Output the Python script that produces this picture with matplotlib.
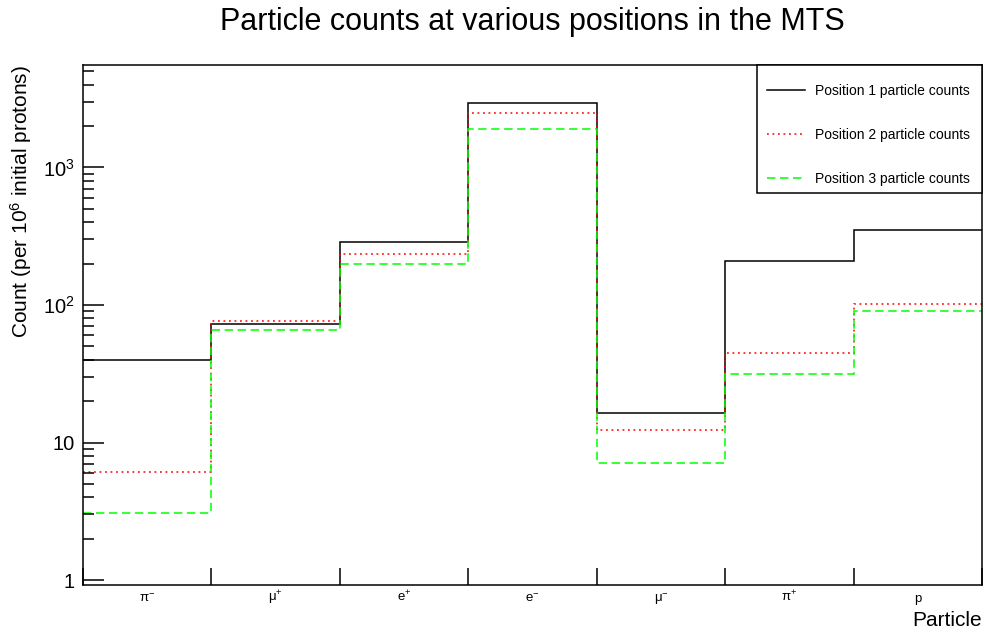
import numpy as np
import matplotlib
matplotlib.use("Agg")
import matplotlib.pyplot as plt
from matplotlib.patches import Rectangle
from matplotlib.ticker import LogLocator, NullFormatter

plt.rcParams['font.family'] = ['Liberation Sans', 'DejaVu Sans']
plt.rcParams['mathtext.fontset'] = 'custom'
plt.rcParams['mathtext.rm'] = 'Liberation Sans'
plt.rcParams['mathtext.it'] = 'Liberation Sans'

particles = ["π$^{-}$", "μ$^{+}$", "e$^{+}$", "e$^{-}$", "μ$^{-}$", "π$^{+}$", "p"]
pos1_counts = [40, 73, 287, 2940, 16.4, 209, 351]
pos2_counts = [6.1, 77, 235, 2490, 12.3, 45, 102]
pos3_counts = [3.05, 66, 199, 1905, 7.1, 31.5, 90]
series_names = ["Position 1 particle counts", "Position 2 particle counts",
                "Position 3 particle counts"]

W, H = 985, 635
fig = plt.figure(figsize=(W / 100, H / 100), dpi=100)
ax = fig.add_axes([83 / W, 50 / H, 899 / W, 520 / H])

edges = np.arange(len(particles) + 1)
ax.stairs(pos1_counts, edges, baseline=None, color="black", lw=1.1,
          label=series_names[0])
ax.stairs(pos2_counts, edges, baseline=None, color="#ff0000", lw=1.1,
          linestyle=(0, (1.2, 2.4)), label=series_names[1])
ax.stairs(pos3_counts, edges, baseline=None, color="#00ff00", lw=1.1,
          linestyle=(0, (5.5, 3)), label=series_names[2])

ax.set_yscale("log")
ax.set_xlim(0, len(particles))
ax.set_ylim(0.92, 5560)

# y ticks, ROOT style: inward on the left only
ax.set_yticks([1, 10, 100, 1000])
ax.set_yticklabels(["1", "10", r"$10^{2}$", r"$10^{3}$"], fontsize=14.5)
ax.yaxis.set_minor_locator(LogLocator(base=10, subs=np.arange(2, 10)))
ax.yaxis.set_minor_formatter(NullFormatter())
ax.tick_params(axis="y", which="major", direction="in", length=15, width=1.1,
               right=False, pad=6)
ax.tick_params(axis="y", which="minor", direction="in", length=8, width=1.1,
               right=False)

# x: ticks at the bin edges, labels in the middle of the bins
ax.set_xticks(edges)
ax.set_xticklabels([])
ax.set_xticks(edges[:-1] + 0.5, minor=True)
ax.set_xticklabels(particles, minor=True, fontsize=9.5)
for lbl in ax.get_xticklabels(minor=True):
    lbl.set_verticalalignment("baseline")
ax.tick_params(axis="x", which="major", direction="in", length=12, width=1.1,
               top=False)
ax.tick_params(axis="x", which="minor", length=0, pad=12)

for s in ax.spines.values():
    s.set_linewidth(1.1)

fig.text(532 / W, 1 - 22 / H, "Particle counts at various positions in the MTS",
         fontsize=22, ha="center", va="center")
fig.text(21 / W, 1 - 65 / H, "Count (per 10$^{6}$ initial protons)",
         fontsize=15, rotation=90, ha="center", va="top")
fig.text(982 / W, 1 - 621 / H, "Particle", fontsize=15, ha="right",
         va="center")

# legend box drawn separately (ROOT TLegend look)
box = Rectangle((757 / W, 1 - 193 / H), 225 / W, 128 / H,
                transform=fig.transFigure, facecolor="white",
                edgecolor="black", lw=1.1, zorder=5)
fig.patches.append(box)
leg = fig.legend(loc="upper left", bbox_to_anchor=(767 / W, 1 - 84 / H),
                 fontsize=10, frameon=False, labelspacing=2.15,
                 handlelength=2.74, borderpad=0, borderaxespad=0,
                 handletextpad=0.72)
leg.set_zorder(6)

fig.savefig("out.png", dpi=100)
